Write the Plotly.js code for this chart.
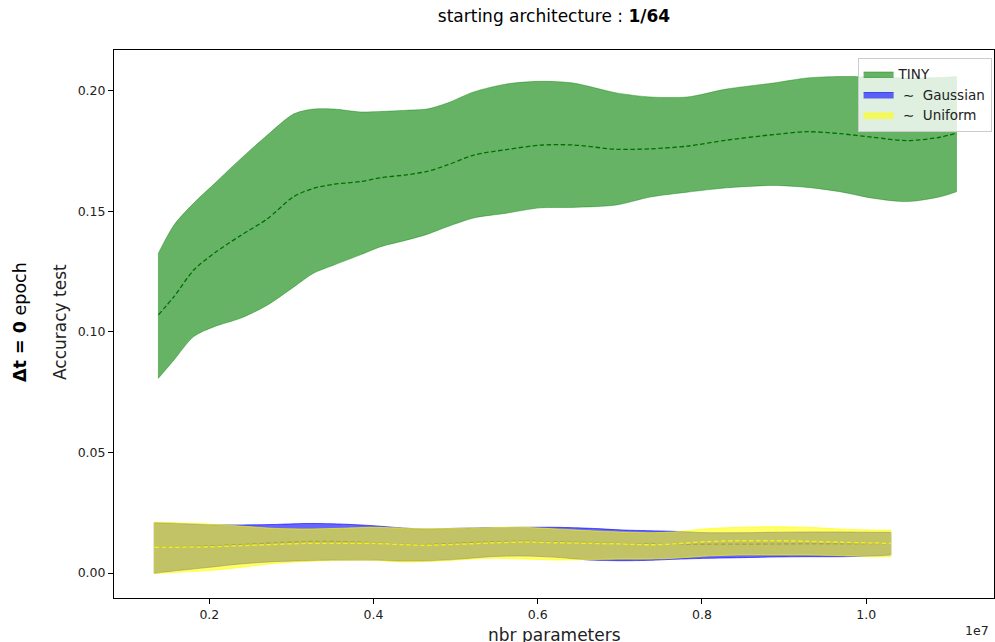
<!DOCTYPE html>
<html>
<head>
<meta charset="utf-8">
<script src="https://cdn.plot.ly/plotly-3.0.1.min.js"></script>
<style>html,body{margin:0;padding:0;background:#fff;}#chart{width:995px;height:642px;}</style>
</head>
<body>
<div id="chart"></div>
<script>
// x values in units of 1e7 parameters
const tinyX = [0.138, 0.157, 0.181, 0.206, 0.238, 0.27, 0.303, 0.327, 0.352, 0.384, 0.409, 0.44, 0.465, 0.49, 0.522, 0.562, 0.603, 0.643, 0.696, 0.737, 0.782, 0.83, 0.887, 0.928, 0.968, 1.008, 1.05, 1.09, 1.11];
const tinyUpper = [0.1327, 0.1444, 0.1535, 0.1615, 0.1718, 0.1815, 0.1905, 0.1925, 0.1925, 0.1913, 0.1915, 0.1920, 0.1925, 0.1950, 0.1996, 0.2029, 0.2040, 0.2033, 0.1992, 0.1975, 0.1975, 0.2008, 0.2033, 0.2054, 0.2060, 0.2058, 0.2054, 0.2056, 0.2060];
const tinyMean = [0.1071, 0.1147, 0.1257, 0.1327, 0.1400, 0.1468, 0.1562, 0.1596, 0.1613, 0.1624, 0.1640, 0.1652, 0.1666, 0.1693, 0.1734, 0.1757, 0.1775, 0.1776, 0.1758, 0.1760, 0.1771, 0.1796, 0.1819, 0.1831, 0.1823, 0.1808, 0.1794, 0.1808, 0.1825];
const tinyLower = [0.0808, 0.0884, 0.0981, 0.1022, 0.1057, 0.1110, 0.1187, 0.1244, 0.1278, 0.1320, 0.1354, 0.1381, 0.1405, 0.1437, 0.1473, 0.1493, 0.1515, 0.1517, 0.1527, 0.1560, 0.1580, 0.1598, 0.1608, 0.1600, 0.1582, 0.1555, 0.1541, 0.1561, 0.1582];

const noiseX = [0.133, 0.1557, 0.2, 0.2373, 0.2775, 0.3179, 0.3591, 0.3993, 0.4322, 0.4602, 0.5016, 0.5418, 0.582, 0.6234, 0.6636, 0.7038, 0.7367, 0.7647, 0.8061, 0.8463, 0.8865, 0.9279, 0.9681, 1.0082, 1.030];
const gaussUpper = [0.02087, 0.02062, 0.02004, 0.01992, 0.02012, 0.02054, 0.02033, 0.01963, 0.01876, 0.01826, 0.01855, 0.0188, 0.01896, 0.01896, 0.01855, 0.01784, 0.01755, 0.0173, 0.01672, 0.01672, 0.01689, 0.01701, 0.01701, 0.01689, 0.01689];
const gaussMean = [0.01066, 0.01079, 0.0112, 0.01174, 0.01245, 0.01299, 0.01299, 0.01257, 0.01191, 0.01174, 0.01232, 0.01286, 0.01315, 0.01286, 0.01257, 0.01216, 0.01203, 0.01191, 0.01191, 0.01191, 0.01203, 0.01216, 0.01216, 0.01224, 0.01232];
const gaussLower = [-0.00012, 0.00083, 0.00237, 0.00373, 0.00469, 0.0051, 0.00539, 0.00539, 0.00498, 0.00498, 0.00568, 0.00676, 0.00705, 0.00651, 0.00539, 0.0051, 0.00527, 0.00568, 0.0061, 0.00635, 0.00664, 0.00676, 0.00676, 0.00705, 0.00747];
const unifUpper = [0.02116, 0.02087, 0.02033, 0.0195, 0.01855, 0.01826, 0.01855, 0.01896, 0.01867, 0.01838, 0.01855, 0.0188, 0.01896, 0.01826, 0.01755, 0.01701, 0.01672, 0.01701, 0.01838, 0.01896, 0.01921, 0.01896, 0.01826, 0.01784, 0.01784];
const unifMean = [0.01066, 0.0107, 0.01087, 0.01133, 0.01183, 0.01232, 0.01232, 0.01232, 0.01183, 0.01149, 0.01191, 0.01245, 0.01286, 0.01257, 0.01232, 0.01203, 0.01174, 0.01203, 0.01299, 0.0134, 0.0134, 0.01315, 0.01274, 0.01245, 0.01232];
const unifLower = [-0.00021, 0.00021, 0.00104, 0.00228, 0.00394, 0.00477, 0.00527, 0.00527, 0.00456, 0.00469, 0.00539, 0.0061, 0.00581, 0.00539, 0.0056, 0.00581, 0.00581, 0.0061, 0.00705, 0.00747, 0.00747, 0.00747, 0.00718, 0.00676, 0.00676];

const xTicks = [0.2, 0.4, 0.6, 0.8, 1.0];
const xTickText = ['0.2', '0.4', '0.6', '0.8', '1.0'];
const yTicks = [0.00, 0.05, 0.10, 0.15, 0.20];
const yTickText = ['0.00', '0.05', '0.10', '0.15', '0.20'];

function band(x, up, lo, name, fill, line) {
  const n = x.length;
  return [
    {x: x, y: lo, type: 'scatter', mode: 'lines', showlegend: false, hoverinfo: 'skip',
      line: {color: line, width: 1, shape: 'spline', smoothing: 0.8}},
    {x: x, y: up, type: 'scatter', mode: 'lines', fill: 'tonexty', fillcolor: fill, name: name, hoverinfo: 'skip',
      line: {color: line, width: 1, shape: 'spline', smoothing: 0.8}},
    // vertical end edges of the band
    {x: [x[0], x[0], null, x[n - 1], x[n - 1]], y: [lo[0], up[0], null, lo[n - 1], up[n - 1]], type: 'scatter', mode: 'lines',
      showlegend: false, hoverinfo: 'skip', line: {color: line, width: 1}}
  ];
}
function meanLine(x, y, color, dash, w) {
  return {x: x, y: y, type: 'scatter', mode: 'lines', showlegend: false, hoverinfo: 'skip',
    line: {color: color, width: w, dash: dash, shape: 'spline', smoothing: 0.8}};
}

const data = [].concat(
  band(tinyX, tinyUpper, tinyLower, 'TINY', 'rgba(0,128,0,0.6)', 'rgba(0,128,0,0.4)'),
  [meanLine(tinyX, tinyMean, '#007000', '4.5px,2.5px', 1.3)],
  band(noiseX, gaussUpper, gaussLower, '\u00a0\u223c\u00a0 Gaussian', 'rgba(0,0,255,0.6)', 'rgba(0,0,255,0.6)'),
  [meanLine(noiseX, gaussMean, '#2a2ab8', '4.5px,2.5px', 1.6)],
  band(noiseX, unifUpper, unifLower, '\u00a0\u223c\u00a0 Uniform', 'rgba(255,255,0,0.6)', 'rgba(255,255,0,0.6)'),
  [meanLine(noiseX, unifMean, '#f0f020', '4.5px,2.5px', 1.5)]
);

const F = 'DejaVu Sans, sans-serif';
const layout = {
  width: 995, height: 642,
  margin: {l: 114, r: 1, t: 50, b: 44},
  paper_bgcolor: '#fff', plot_bgcolor: '#fff',
  font: {family: F, size: 12.5, color: '#000'},
  title: {text: 'starting architecture : <b>1/64</b>', font: {family: F, size: 17, color: '#000'},
    x: 0.5, xref: 'paper', xanchor: 'center', y: 0.975, yref: 'container', yanchor: 'middle'},
  xaxis: {range: [0.0839, 1.1557], tickvals: xTicks, ticktext: xTickText, showgrid: false, zeroline: false,
    showline: true, mirror: true, linecolor: '#000', linewidth: 1, ticks: 'outside', ticklen: 5, tickcolor: '#000',
    tickfont: {family: F, size: 12.5, color: '#222'}},
  yaxis: {range: [-0.01037, 0.2170], tickvals: yTicks, ticktext: yTickText, showgrid: false, zeroline: false,
    showline: true, mirror: true, linecolor: '#000', linewidth: 1, ticks: 'outside', ticklen: 5, tickcolor: '#000',
    tickfont: {family: F, size: 12.5, color: '#222'}},
  showlegend: true,
  legend: {x: 0.845, y: 0.986, xanchor: 'left', yanchor: 'top', bgcolor: 'rgba(255,255,255,0.8)',
    bordercolor: '#cccccc', borderwidth: 1, font: {family: F, size: 13.5, color: '#222'},
    itemwidth: 30, tracegroupgap: 0, traceorder: 'normal'},
  annotations: [
    {text: 'nbr parameters', xref: 'paper', yref: 'paper', x: 0.5, y: -(635 - 598) / 548, xanchor: 'center', yanchor: 'middle',
      showarrow: false, font: {family: F, size: 17, color: '#222'}},
    {text: '1e7', xref: 'paper', yref: 'paper', x: (977 - 114) / 880, y: -(630 - 598) / 548, xanchor: 'center', yanchor: 'middle',
      showarrow: false, font: {family: F, size: 12.5, color: '#222'}},
    {text: 'Accuracy test', xref: 'paper', yref: 'paper', x: (60 - 114) / 880, y: 1 - (322 - 50) / 548, xanchor: 'center', yanchor: 'middle',
      textangle: -90, showarrow: false, font: {family: F, size: 17, color: '#222'}},
    {text: '<b>\u0394t = 0</b> epoch', xref: 'paper', yref: 'paper', x: (20 - 114) / 880, y: 1 - (322 - 50) / 548, xanchor: 'center', yanchor: 'middle',
      textangle: -90, showarrow: false, font: {family: F, size: 17.5, color: '#000'}}
  ]
};
Plotly.newPlot('chart', data, layout, {displayModeBar: false, staticPlot: true});
</script>
</body>
</html>
